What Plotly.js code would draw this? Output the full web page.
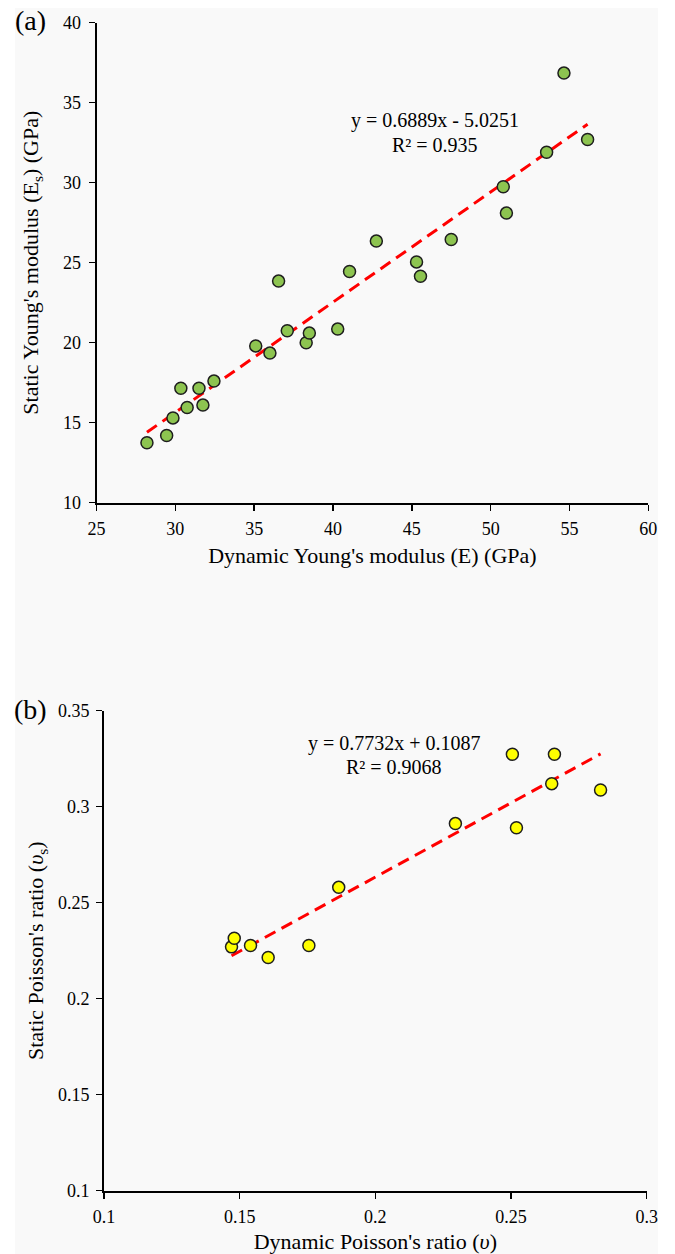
<!DOCTYPE html>
<html>
<head>
<meta charset="utf-8">
<script src="https://cdn.plot.ly/plotly-3.0.1.min.js"></script>
<style>
html, body { margin: 0; padding: 0; background: #ffffff; }
#chart { width: 675px; height: 1254px; }
</style>
</head>
<body>
<div id="chart"></div>
<script>
// ---------- Data: panel (a) ----------
const dynamicYoungs = [28.2, 29.45, 29.85, 30.35, 30.75, 31.5, 31.75, 32.45, 35.1, 36.0, 36.55, 37.1, 38.3, 38.5, 40.3, 41.05, 42.75, 45.3, 45.55, 47.5, 50.8, 51.0, 53.55, 54.65, 56.15];
const staticYoungs  = [13.75, 14.2, 15.3, 17.15, 15.95, 17.15, 16.1, 17.6, 19.8, 19.35, 23.85, 20.75, 20.0, 20.6, 20.85, 24.45, 26.35, 25.05, 24.15, 26.45, 29.75, 28.1, 31.9, 36.85, 32.7];
const fitA = { slope: 0.6889, intercept: -5.0251, r2: '0.935' };

// ---------- Data: panel (b) ----------
const dynamicPoisson = [0.147, 0.148, 0.154, 0.1605, 0.1755, 0.1865, 0.2295, 0.2505, 0.252, 0.265, 0.266, 0.283];
const staticPoisson  = [0.227, 0.2315, 0.2277, 0.2215, 0.2277, 0.258, 0.2912, 0.3273, 0.289, 0.312, 0.3273, 0.3087];
const fitB = { slope: 0.7732, intercept: 0.1087, r2: '0.9068' };

// ---------- Tick labels ----------
const xTicksA = [25, 30, 35, 40, 45, 50, 55, 60];
const yTicksA = [10, 15, 20, 25, 30, 35, 40];
const xTicksB = [0.1, 0.15, 0.2, 0.25, 0.3];
const xTickTextB = ['0.1', '0.15', '0.2', '0.25', '0.3'];
const yTicksB = [0.1, 0.15, 0.2, 0.25, 0.3, 0.35];
const yTickTextB = ['0.1', '0.15', '0.2', '0.25', '0.3', '0.35'];

function fitLine(xs, fit) {
  const lo = Math.min(...xs), hi = Math.max(...xs);
  return { x: [lo, hi], y: [fit.slope * lo + fit.intercept, fit.slope * hi + fit.intercept] };
}
const lineA = fitLine(dynamicYoungs, fitA);
const lineB = fitLine(dynamicPoisson, fitB);

const W = 675, H = 1254;
const px = v => v / W;
const py = v => 1 - v / H;

const serif = 'Liberation Serif, Times New Roman, serif';
const tickFont = { family: serif, size: 18, color: '#000' };
const titleFont = { family: serif, size: 22, color: '#000' };
const eqFont = { family: serif, size: 20, color: '#000' };

const traces = [
  { x: lineA.x, y: lineA.y, xaxis: 'x', yaxis: 'y', mode: 'lines', type: 'scatter',
    line: { color: '#ff0000', width: 3, dash: '12px,7px' }, hoverinfo: 'skip', showlegend: false },
  { x: dynamicYoungs, y: staticYoungs, xaxis: 'x', yaxis: 'y', mode: 'markers', type: 'scatter',
    marker: { size: 12, color: '#8dc450', line: { color: '#1e1e1e', width: 1.5 } }, showlegend: false },
  { x: lineB.x, y: lineB.y, xaxis: 'x2', yaxis: 'y2', mode: 'lines', type: 'scatter',
    line: { color: '#ff0000', width: 3, dash: '12px,7px' }, hoverinfo: 'skip', showlegend: false },
  { x: dynamicPoisson, y: staticPoisson, xaxis: 'x2', yaxis: 'y2', mode: 'markers', type: 'scatter',
    marker: { size: 12, color: '#ffff00', line: { color: '#1e1e1e', width: 1.5 } }, showlegend: false }
];

const axisBase = {
  showline: true, linecolor: '#000', linewidth: 2,
  ticks: 'outside', ticklen: 6, tickwidth: 1.5, tickcolor: '#000',
  showgrid: false, zeroline: false, tickfont: tickFont, fixedrange: true, automargin: false
};

function note(text, x, y) {
  return { text: text, xref: 'paper', yref: 'paper', x: px(x), y: py(y), xanchor: 'center', yanchor: 'middle',
           showarrow: false, font: eqFont };
}

const layout = {
  width: W, height: H,
  margin: { l: 0, r: 0, t: 0, b: 0 },
  paper_bgcolor: '#ffffff',
  plot_bgcolor: 'rgba(0,0,0,0)',
  showlegend: false,
  xaxis: Object.assign({}, axisBase, {
    domain: [px(96.5), px(648.3)], range: [25, 60], tickvals: xTicksA, anchor: 'y', ticklabelstandoff: 3,
    title: { text: "Dynamic Young's modulus (E) (GPa)", font: titleFont, standoff: 9 } }),
  yaxis: Object.assign({}, axisBase, {
    domain: [py(502.7), py(22.7)], range: [10, 40], tickvals: yTicksA, anchor: 'x', ticklabelstandoff: 4,
    title: { text: "Static Young's modulus (E<sub>s</sub>) (GPa)", font: titleFont, standoff: 18 } }),
  xaxis2: Object.assign({}, axisBase, {
    domain: [px(104), px(646.7)], range: [0.1, 0.3], tickvals: xTicksB, ticktext: xTickTextB, anchor: 'y2', ticklabelstandoff: 3,
    title: { text: "Dynamic Poisson's ratio (<i>υ</i>)", font: titleFont, standoff: 10 } }),
  yaxis2: Object.assign({}, axisBase, {
    domain: [py(1190.7), py(710.7)], range: [0.1, 0.35], tickvals: yTicksB, ticktext: yTickTextB, anchor: 'x2', ticklabelstandoff: 3,
    title: { text: "Static Poisson's ratio (<i>υ</i><sub>s</sub>)", font: titleFont, standoff: 8 } }),
  shapes: [
    { type: 'rect', xref: 'paper', yref: 'paper', x0: px(15), x1: px(658), y0: 0, y1: py(8),
      fillcolor: '#f9f9f9', line: { width: 0 }, layer: 'below' }
  ],
  annotations: [
    { text: '(a)', xref: 'paper', yref: 'paper', x: px(30.5), y: py(20), xanchor: 'center', yanchor: 'middle',
      showarrow: false, font: { family: serif, size: 28, color: '#000' } },
    { text: '(b)', xref: 'paper', yref: 'paper', x: px(30.5), y: py(709), xanchor: 'center', yanchor: 'middle',
      showarrow: false, font: { family: serif, size: 28, color: '#000' } },
    note('y = ' + fitA.slope + 'x - ' + Math.abs(fitA.intercept).toFixed(4), 435, 121),
    note('R² = ' + fitA.r2, 435, 145),
    note('y = ' + fitB.slope + 'x + ' + fitB.intercept, 394, 743),
    note('R² = ' + fitB.r2, 394, 767)
  ]
};

Plotly.newPlot('chart', traces, layout, { displayModeBar: false, staticPlot: true });
</script>
</body>
</html>
